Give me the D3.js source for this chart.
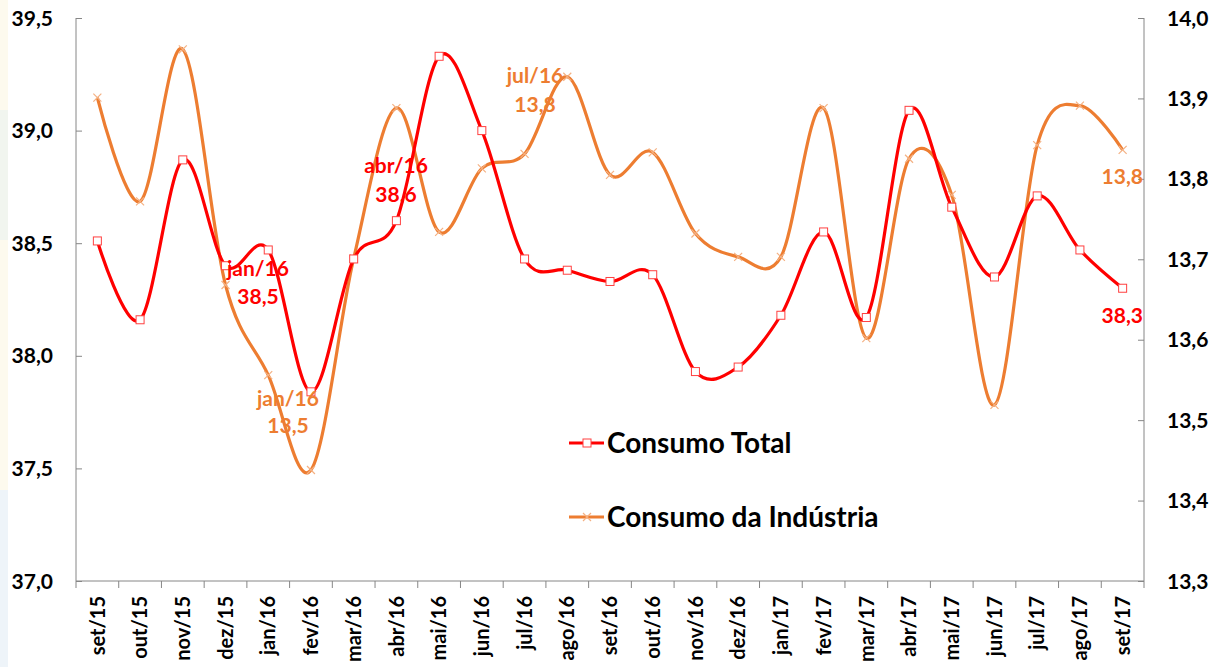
<!DOCTYPE html>
<html>
<head>
<meta charset="utf-8">
<script src="https://cdn.jsdelivr.net/npm/d3@7"></script>
<style>
  body { margin: 0; background: #fff; }
  text { font-family: Lato, "Open Sans", sans-serif; font-weight: bold; }
</style>
</head>
<body>
<svg id="chart" width="1211" height="667"></svg>
<script>
// ---------------- data ----------------
var months = ["set/15","out/15","nov/15","dez/15","jan/16","fev/16","mar/16","abr/16","mai/16","jun/16",
              "jul/16","ago/16","set/16","out/16","nov/16","dez/16","jan/17","fev/17","mar/17","abr/17",
              "mai/17","jun/17","jul/17","ago/17","set/17"];

var consumoTotal = [38.51, 38.16, 38.87, 38.40, 38.47, 37.84, 38.43, 38.60, 39.33, 39.00,
                    38.43, 38.38, 38.33, 38.36, 37.93, 37.95, 38.18, 38.55, 38.17, 39.09,
                    38.66, 38.35, 38.71, 38.47, 38.30];

var consumoIndustria = [13.901, 13.772, 13.961, 13.668, 13.556, 13.438, 13.701, 13.888, 13.734, 13.813,
                        13.831, 13.927, 13.805, 13.833, 13.732, 13.703, 13.703, 13.888, 13.602, 13.825,
                        13.780, 13.519, 13.842, 13.891, 13.836];

var leftTicks = [37.0, 37.5, 38.0, 38.5, 39.0, 39.5];
var rightTicks = [13.3, 13.4, 13.5, 13.6, 13.7, 13.8, 13.9, 14.0];

var RED = "#ff0000", ORANGE = "#ed7d31";

var svg = d3.select("#chart");

// faint strip on the left edge
var strip = [["#fdfaee", 0, 110], ["#f1f5ef", 110, 240], ["#fdfaee", 240, 490], ["#eef4f9", 490, 667]];
svg.selectAll(".strip").data(strip).enter().append("rect")
    .attr("x", 0).attr("y", function(d){ return d[1]; })
    .attr("width", 8).attr("height", function(d){ return d[2] - d[1]; })
    .style("fill", function(d){ return d[0]; });

var plotLeft = 76, plotRight = 1144, plotTop = 18, plotBottom = 581;

var x = d3.scaleBand().domain(months).range([plotLeft, plotRight]);
var yL = d3.scaleLinear().domain([37, 39.5]).range([plotBottom, plotTop]);
var yR = d3.scaleLinear().domain([13.3, 14.0]).range([plotBottom, plotTop]);

var fmt1 = function(d){ return d3.format(".1f")(d).replace(".", ","); };

// ---------------- axes ----------------
var gL = svg.append("g").attr("transform", "translate(" + plotLeft + ",0)")
    .call(d3.axisRight(yL).tickValues(leftTicks).tickSize(6).tickFormat(""));
var gR = svg.append("g").attr("transform", "translate(" + plotRight + ",0)")
    .call(d3.axisLeft(yR).tickValues(rightTicks).tickSize(6).tickFormat(""));
[gL, gR].forEach(function(g){
  g.select(".domain").attr("stroke", "#868686").attr("d", "M0," + plotTop + "V" + plotBottom);
  g.selectAll(".tick line").attr("stroke", "#868686");
});

svg.selectAll(".ltick").data(leftTicks).enter().append("text")
    .attr("x", 53).attr("y", function(d){ return yL(d); })
    .attr("dy", "0.36em").attr("text-anchor", "end")
    .style("font-size", "21px").style("fill", "#000")
    .text(fmt1);

svg.selectAll(".rtick").data(rightTicks).enter().append("text")
    .attr("x", 1167).attr("y", function(d){ return yR(d); })
    .attr("dy", "0.36em").attr("text-anchor", "start")
    .style("font-size", "21px").style("fill", "#000")
    .text(fmt1);

// x axis with boundary ticks
var gx = svg.append("g").attr("transform", "translate(0," + plotBottom + ")");
gx.append("line").attr("x1", plotLeft).attr("x2", plotRight).attr("stroke", "#868686");
var bounds = months.map(function(m){ return x(m); }).concat([plotRight]);
gx.selectAll(".xt").data(bounds).enter().append("line")
    .attr("x1", function(d){ return d; }).attr("x2", function(d){ return d; })
    .attr("y1", 0).attr("y2", 7).attr("stroke", "#868686");

svg.selectAll(".xlab").data(months).enter().append("text")
    .attr("transform", function(d){
      return "translate(" + (x(d) + x.bandwidth() / 2) + ",596) rotate(-90)";
    })
    .attr("dy", "0.36em").attr("text-anchor", "end")
    .style("font-size", "20px").style("fill", "#000")
    .text(function(d){ return d; });

// ---------------- lines ----------------
var cx = function(i){ return x(months[i]) + x.bandwidth() / 2; };

var lineL = d3.line().x(function(d, i){ return cx(i); }).y(function(d){ return yL(d); })
    .curve(d3.curveCardinal.tension(0));
var lineR = d3.line().x(function(d, i){ return cx(i); }).y(function(d){ return yR(d); })
    .curve(d3.curveCardinal.tension(0));

svg.append("path").attr("d", lineR(consumoIndustria))
    .attr("fill", "none").attr("stroke", ORANGE).attr("stroke-width", 3.2);

svg.selectAll(".xm").data(consumoIndustria).enter().append("path")
    .attr("transform", function(d, i){ return "translate(" + cx(i) + "," + yR(d) + ")"; })
    .attr("d", "M-4,-4L4,4M-4,4L4,-4")
    .attr("stroke", "#f4b183").attr("stroke-width", 1.2);

svg.append("path").attr("d", lineL(consumoTotal))
    .attr("fill", "none").attr("stroke", RED).attr("stroke-width", 3.2);

svg.selectAll(".sq").data(consumoTotal).enter().append("rect")
    .attr("x", function(d, i){ return cx(i) - 4; })
    .attr("y", function(d){ return yL(d) - 4; })
    .attr("width", 8).attr("height", 8)
    .attr("fill", "#fff").attr("stroke", "#ff4040").attr("stroke-width", 1);

// ---------------- labels ----------------
var notes = [
  {t: "jan/16", x: 258, y: 276, c: RED, a: "middle"},
  {t: "38,5", x: 258, y: 304, c: RED, a: "middle"},
  {t: "abr/16", x: 396, y: 173, c: RED, a: "middle"},
  {t: "38,6", x: 396, y: 202, c: RED, a: "middle"},
  {t: "jan/16", x: 288, y: 406, c: ORANGE, a: "middle"},
  {t: "13,5", x: 288, y: 433, c: ORANGE, a: "middle"},
  {t: "jul/16", x: 535, y: 83, c: ORANGE, a: "middle"},
  {t: "13,8", x: 535, y: 112, c: ORANGE, a: "middle"},
  {t: "13,8", x: 1143, y: 184, c: ORANGE, a: "end"},
  {t: "38,3", x: 1143, y: 323, c: RED, a: "end"}
];
svg.selectAll(".note").data(notes).enter().append("text")
    .attr("x", function(d){ return d.x; }).attr("y", function(d){ return d.y; })
    .attr("text-anchor", function(d){ return d.a; })
    .style("font-size", "21px").style("fill", function(d){ return d.c; })
    .text(function(d){ return d.t; });

// ---------------- legend ----------------
var legend = [
  {name: "Consumo Total", color: RED, y: 443, mark: "sq"},
  {name: "Consumo da Indústria", color: ORANGE, y: 517, mark: "x"}
];
var lg = svg.selectAll(".lg").data(legend).enter().append("g")
    .attr("transform", function(d){ return "translate(569," + d.y + ")"; });
lg.append("line").attr("x1", 0).attr("x2", 35)
    .attr("stroke", function(d){ return d.color; }).attr("stroke-width", 3.2);
lg.filter(function(d){ return d.mark == "sq"; }).append("rect")
    .attr("x", 14).attr("y", -4).attr("width", 8).attr("height", 8)
    .attr("fill", "#fff").attr("stroke", "#ff4040");
lg.filter(function(d){ return d.mark == "x"; }).append("path")
    .attr("d", "M14,-4L22,4M14,4L22,-4").attr("stroke", "#f4b183").attr("stroke-width", 1.2);
lg.append("text").attr("x", 38).attr("dy", "0.36em")
    .style("font-size", "28px").style("fill", "#000")
    .text(function(d){ return d.name; });
</script>
</body>
</html>
